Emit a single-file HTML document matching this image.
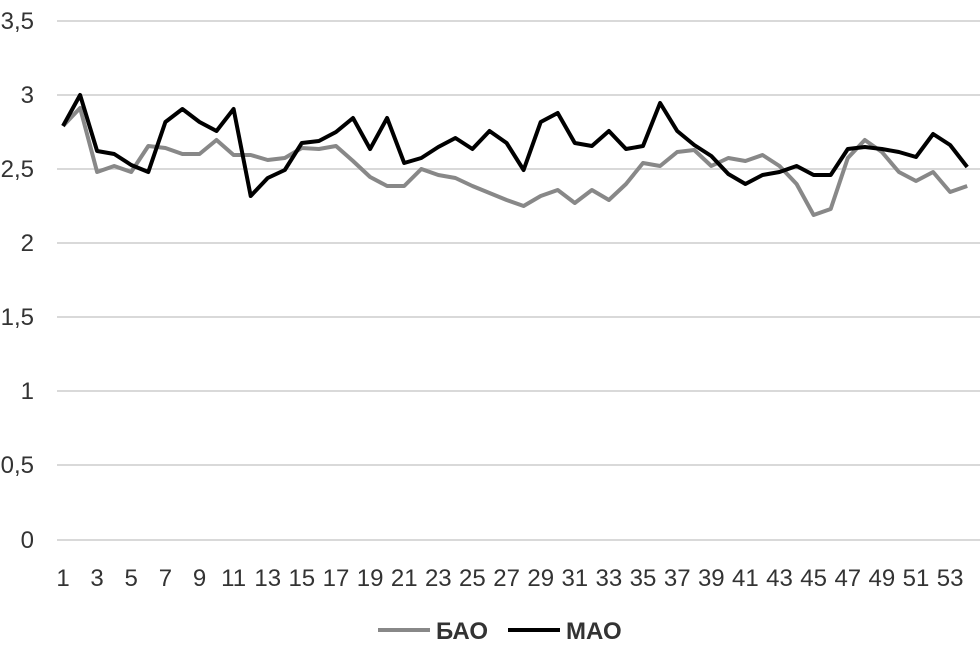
<!DOCTYPE html>
<html><head><meta charset="utf-8"><style>
body{margin:0;background:#fff;}
svg text{font-family:"Liberation Sans Narrow","Liberation Sans",sans-serif;font-size:24px;fill:#333;}
</style></head><body>
<svg width="980" height="654" xmlns="http://www.w3.org/2000/svg">
<g stroke="#d9d9d9" stroke-width="2">
<line x1="57" x2="980" y1="21" y2="21"/><line x1="57" x2="980" y1="95" y2="95"/>
<line x1="57" x2="980" y1="169" y2="169"/><line x1="57" x2="980" y1="243" y2="243"/>
<line x1="57" x2="980" y1="317" y2="317"/><line x1="57" x2="980" y1="391" y2="391"/>
<line x1="57" x2="980" y1="465" y2="465"/><line x1="57" x2="980" y1="540" y2="540"/>
</g>
<g text-anchor="end">
<text x="34" y="29">3,5</text><text x="34" y="103">3</text><text x="34" y="177">2,5</text>
<text x="34" y="251">2</text><text x="34" y="325">1,5</text><text x="34" y="399">1</text>
<text x="34" y="473">0,5</text><text x="34" y="548">0</text>
</g>
<g id="xl" text-anchor="middle"></g>
<polyline id="bao" fill="none" stroke="#888" stroke-width="4" stroke-linejoin="round"/>
<polyline id="mao" fill="none" stroke="#000" stroke-width="4" stroke-linejoin="round"/>
<line x1="378" x2="430" y1="630" y2="630" stroke="#888" stroke-width="4"/>
<text x="436" y="639" style="font-weight:bold">БАО</text>
<line x1="508" x2="560" y1="630" y2="630" stroke="#000" stroke-width="4"/>
<text x="566" y="639" style="font-weight:bold">МАО</text>
</svg>
<script>
var m=[126,95,151,154,165,172,122,109,122,131,109,196,178,170,143,141,132,118,149,118,163,158,147,138,149,131,143,170,122,113,143,146,131,149,146,103,131,145,156,174,184,175,172,166,175,175,149,147,149,152,157,134,145,167];
var b=[126,108,172,166,172,146,148,154,154,140,155,155,160,158,148,149,146,161,177,186,186,169,175,178,186,193,200,206,196,190,203,190,200,184,163,166,152,150,166,158,161,155,166,184,215,209,158,140,152,172,181,172,192,186];
function X(i){return 63+i*17.06;}
document.getElementById('mao').setAttribute('points',m.map((y,i)=>X(i).toFixed(1)+','+y).join(' '));
document.getElementById('bao').setAttribute('points',b.map((y,i)=>X(i).toFixed(1)+','+y).join(' '));
var g=document.getElementById('xl'),s='';
for(var i=0;i<54;i+=2){s+='<text x="'+X(i).toFixed(1)+'" y="586">'+(i+1)+'</text>';}
g.innerHTML=s;
</script>
</body></html>
